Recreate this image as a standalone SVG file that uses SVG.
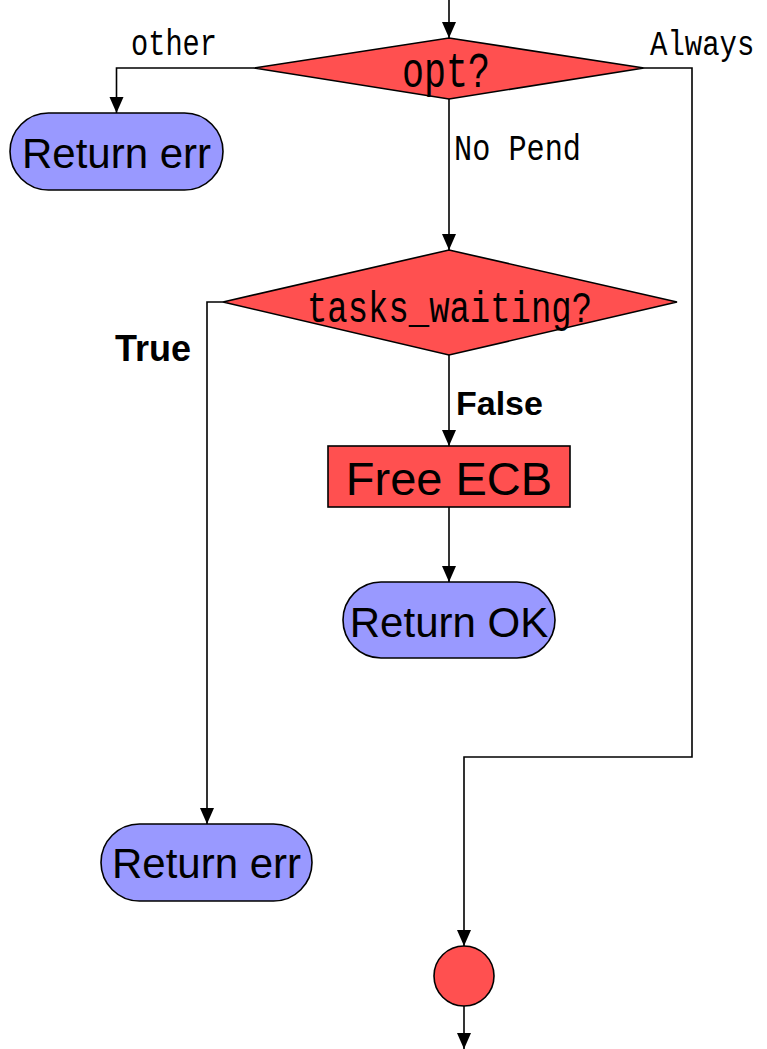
<svg xmlns="http://www.w3.org/2000/svg" width="767" height="1049" viewBox="0 0 767 1049">
  <style>
    .decision { fill: #FF5050; stroke: #000; stroke-width: 1.6; }
    .process { fill: #FF5050; stroke: #000; stroke-width: 1.6; }
    .terminal { fill: #9999FF; stroke: #000; stroke-width: 1.6; }
    .wire { fill: none; stroke: #000; stroke-width: 1.6; }
    .mono { font-family: "Liberation Mono", "DejaVu Sans Mono", monospace; fill: #000; }
    .sans { font-family: "Liberation Sans", Arial, sans-serif; fill: #000; }
    .bold { font-family: "Liberation Sans", Arial, sans-serif; font-weight: bold; fill: #000; }
  </style>
  <defs>
    <marker id="arrow" markerUnits="userSpaceOnUse" markerWidth="16" markerHeight="16" refX="16" refY="7" orient="auto">
      <path d="M0,0 L16,7 L0,14 Z" fill="#000"/>
    </marker>
  </defs>
  <rect width="767" height="1049" fill="#fff"/>

  <g id="connectors">
    <path class="wire" d="M449,0 V38" marker-end="url(#arrow)"/>
    <path class="wire" d="M254,68 H116.5 V113" marker-end="url(#arrow)"/>
    <path class="wire" d="M449,99 V250" marker-end="url(#arrow)"/>
    <path class="wire" d="M644,68 H692 V757 H464 V946" marker-end="url(#arrow)"/>
    <path class="wire" d="M223,302 H207 V824" marker-end="url(#arrow)"/>
    <path class="wire" d="M449,355 V446" marker-end="url(#arrow)"/>
    <path class="wire" d="M449,507 V582" marker-end="url(#arrow)"/>
    <path class="wire" d="M464,1006 V1049" marker-end="url(#arrow)"/>
    <text class="mono" x="131" y="55" font-size="36" textLength="86" lengthAdjust="spacingAndGlyphs">other</text>
    <!-- tall narrow label: small font stretched vertically so it stays inside the right edge -->
    <text class="mono" transform="translate(650,55) scale(1,1.24)" x="0" y="0" font-size="29">Always</text>
    <text class="mono" x="454" y="160" font-size="36" textLength="127" lengthAdjust="spacingAndGlyphs">No Pend</text>
    <text class="bold" x="115" y="361" font-size="36">True</text>
    <text class="bold" x="456" y="415" font-size="34">False</text>
  </g>

  <g id="opt">
    <polygon class="decision" points="449,38 644,68 449,99 254,68"/>
    <text class="mono" x="402" y="87" font-size="50" textLength="88" lengthAdjust="spacingAndGlyphs">opt?</text>
  </g>

  <g id="return-err-opt">
    <rect class="terminal" x="10" y="113" width="213" height="77" rx="38.5"/>
    <text class="sans" x="116.5" y="168" font-size="42" text-anchor="middle">Return err</text>
  </g>

  <g id="tasks-waiting">
    <polygon class="decision" points="449,250 677,302 449,355 223,302"/>
    <text class="mono" x="307" y="322" font-size="44" textLength="285" lengthAdjust="spacingAndGlyphs">tasks_waiting?</text>
  </g>

  <g id="free-ecb">
    <rect class="process" x="328" y="446" width="242" height="61"/>
    <text class="sans" x="449" y="495" font-size="47" text-anchor="middle">Free ECB</text>
  </g>

  <g id="return-ok">
    <rect class="terminal" x="343" y="582" width="212" height="76" rx="38"/>
    <text class="sans" x="449" y="637" font-size="42" text-anchor="middle">Return OK</text>
  </g>

  <g id="return-err-waiting">
    <rect class="terminal" x="101" y="824" width="211" height="77" rx="38.5"/>
    <text class="sans" x="206.5" y="878" font-size="42" text-anchor="middle">Return err</text>
  </g>

  <g id="join">
    <circle class="process" cx="464" cy="976" r="30"/>
  </g>
</svg>
